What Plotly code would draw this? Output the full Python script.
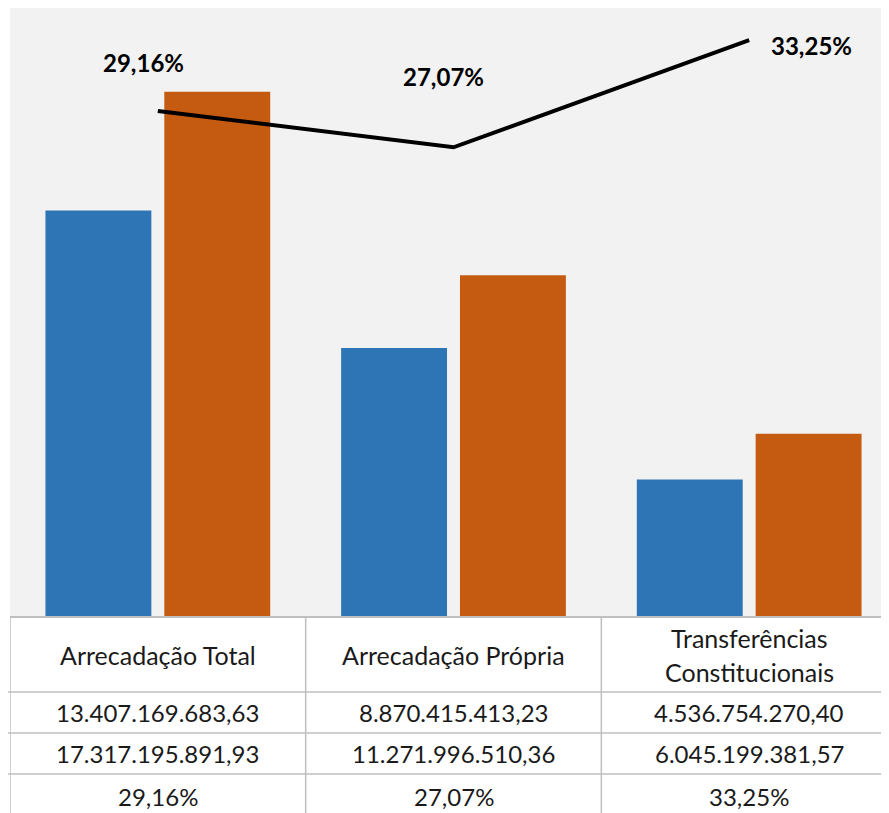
import plotly.graph_objects as go

categories = ["Arrecadação Total", "Arrecadação Própria", "Transferências<br>Constitucionais"]
serie_2022 = [13407169683.63, 8870415413.23, 4536754270.40]
serie_2023 = [17317195891.93, 11271996510.36, 6045199381.57]
variacao = [0.2916, 0.2707, 0.3325]

W, H = 889, 813
OFF = 8               # page body margin of the browser
PL, PT, PB = 10, 8, 617   # plot area edges in screen pixels
PR = 897
FONT = "Lato, 'Open Sans', sans-serif"
GRID = "#bfbfbf"
BLUE = "#2e75b6"
ORANGE = "#c55a11"


def br(v):
    s = f"{v:,.2f}"
    return s.replace(",", "X").replace(".", ",").replace("X", ".")


def pct(v):
    return f"{v*100:.2f}".replace(".", ",") + "%"


def py(p):
    return (PB - p) / (PB - PT)


def px(p):
    return (p - PL) / (PR - PL)


xs = list(range(len(categories)))

fig = go.Figure()
fig.add_trace(go.Bar(x=xs, y=serie_2022, marker=dict(color=BLUE, line=dict(width=0)), name="2022"))
fig.add_trace(go.Bar(x=xs, y=serie_2023, marker=dict(color=ORANGE, line=dict(width=0)), name="2023"))
fig.add_trace(go.Scatter(x=xs, y=variacao, yaxis="y2", mode="lines",
                         line=dict(color="black", width=4), name="Variação %"))

shifts = [(-14, 49), (-10, 71), (62, -5)]
for i, v in enumerate(variacao):
    fig.add_annotation(x=xs[i], y=v, yref="y2", text=f"<b>{pct(v)}</b>", showarrow=False,
                       xshift=shifts[i][0], yshift=shifts[i][1],
                       font=dict(family=FONT, size=24, color="black"))

shapes = []
shapes.append(dict(type="line", xref="paper", yref="paper", x0=0, x1=1, y0=0, y1=0,
                   line=dict(color=GRID, width=2)))
for p in [692, 733, 774]:
    shapes.append(dict(type="line", xref="paper", yref="paper", x0=px(OFF), x1=1.0,
                       y0=py(p), y1=py(p), line=dict(color=GRID, width=1.5)))
for b in [-0.5, 0.5, 1.5]:
    shapes.append(dict(type="line", xref="x", yref="paper", x0=b, x1=b,
                       y0=0, y1=py(H + 10), line=dict(color=GRID, width=1.5)))
fig.update_layout(shapes=shapes)

tfont = dict(family=FONT, size=24, color="#1a1a1a")
hfont = dict(family=FONT, size=25, color="#1a1a1a")
for i, c in enumerate(categories):
    lines = c.split("<br>")
    n = len(lines)
    for k, ln in enumerate(lines):
        cy = 655 + (k - (n - 1) / 2) * 34
        fig.add_annotation(x=xs[i], xref="x", y=py(cy), yref="paper", text=ln, showarrow=False,
                           font=hfont, yanchor="middle")
rows_y = [712.5, 753.5, 796]
rows = [[br(v) for v in serie_2022], [br(v) for v in serie_2023], [pct(v) for v in variacao]]
for r, vals in enumerate(rows):
    for i, t in enumerate(vals):
        fig.add_annotation(x=xs[i], xref="x", y=py(rows_y[r]), yref="paper", text=t,
                           showarrow=False, font=tfont, yanchor="middle")

fig.update_layout(
    width=W, height=H,
    margin=dict(l=PL - OFF, r=0, t=PT - OFF, b=H - (PB - OFF), pad=0),
    paper_bgcolor="white", plot_bgcolor="#f2f2f2",
    barmode="group", bargap=0.196, bargroupgap=0.109,
    showlegend=False,
    xaxis=dict(range=[-0.5, 2.5], showticklabels=False, showgrid=False,
               zeroline=False, showline=False, ticks=""),
    yaxis=dict(range=[0, 20.08e9], showticklabels=False, showgrid=False, zeroline=False,
               showline=False, ticks=""),
    yaxis2=dict(range=[0, 0.351], overlaying="y", side="right", showticklabels=False,
                showgrid=False, zeroline=False, showline=False, ticks=""),
)

fig.write_html("out.html")
